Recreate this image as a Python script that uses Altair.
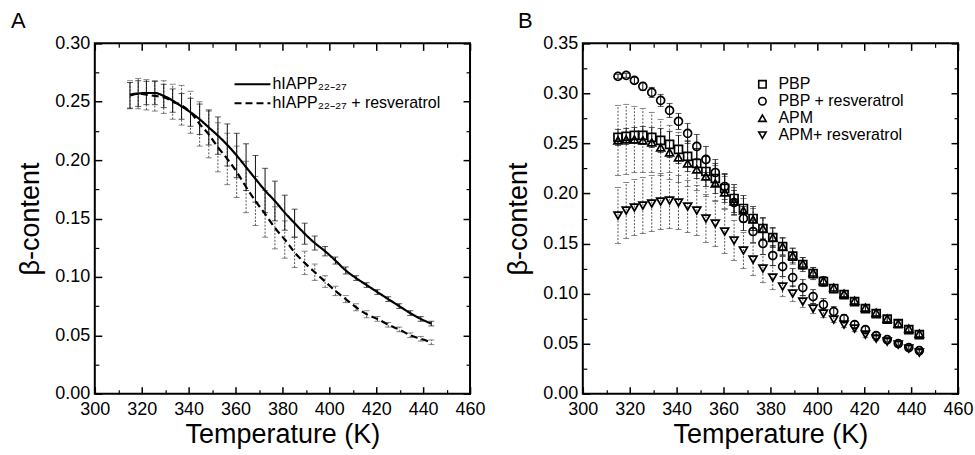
import altair as alt
import pandas as pd

FONT = "Liberation Sans"

# Temperatures (K) of the replicas
temps = [315.0, 318.5, 322.0, 325.6, 329.4, 333.2, 337.0, 340.8, 344.7, 348.6,
         352.5, 356.5, 360.5, 364.5, 368.5, 372.6, 376.8, 381.0, 385.2, 389.5,
         393.8, 398.2, 402.6, 407.0, 411.4, 415.9, 420.5, 425.1, 429.8, 434.5,
         439.0, 443.5]

x_major = [300, 320, 340, 360, 380, 400, 420, 440, 460]
x_minor = [310, 330, 350, 370, 390, 410, 430, 450]
a_y_major = [0.00, 0.05, 0.10, 0.15, 0.20, 0.25, 0.30]
a_y_minor = [0.025, 0.075, 0.125, 0.175, 0.225, 0.275]
b_y_major = [0.00, 0.05, 0.10, 0.15, 0.20, 0.25, 0.30, 0.35]
b_y_minor = [0.025, 0.075, 0.125, 0.175, 0.225, 0.275, 0.325]

# Panel A
a_names = ["hIAPP\u2082\u2082\u208b\u2082\u2087", "hIAPP\u2082\u2082\u208b\u2082\u2087 + resveratrol"]
a_hiapp = [0.2555, 0.257, 0.2575, 0.2575, 0.255, 0.251, 0.246, 0.241, 0.235, 0.228,
           0.221, 0.213, 0.204, 0.194, 0.184, 0.174, 0.165, 0.155, 0.146, 0.137,
           0.129, 0.122, 0.114, 0.1055, 0.099, 0.093, 0.087, 0.081, 0.075, 0.069,
           0.064, 0.060]
a_hiapp_err = [0.011, 0.011, 0.010, 0.010, 0.010, 0.010, 0.011, 0.012, 0.013, 0.015,
               0.016, 0.018, 0.019, 0.020, 0.020, 0.019, 0.017, 0.015, 0.012, 0.009,
               0.006, 0.004, 0.003, 0.003, 0.002, 0.002, 0.002, 0.002, 0.002, 0.002,
               0.002, 0.002]
a_res = [0.256, 0.257, 0.256, 0.255, 0.254, 0.250, 0.247, 0.241, 0.231, 0.222,
         0.211, 0.201, 0.190, 0.177, 0.165, 0.154, 0.142, 0.132, 0.121, 0.112,
         0.104, 0.096, 0.088, 0.081, 0.074, 0.068, 0.064, 0.059, 0.055, 0.050,
         0.047, 0.044]
a_res_err = [0.012, 0.013, 0.013, 0.013, 0.014, 0.015, 0.017, 0.018, 0.019, 0.020,
             0.021, 0.022, 0.022, 0.022, 0.021, 0.020, 0.018, 0.016, 0.013, 0.010,
             0.007, 0.005, 0.004, 0.003, 0.003, 0.003, 0.002, 0.002, 0.002, 0.002,
             0.002, 0.002]

# Panel B
b_names = ["PBP", "PBP + resveratrol", "APM", "APM+ resveratrol"]
b_shapes = ["square", "circle", "triangle-up", "triangle-down"]
b_pbp = [0.256, 0.257, 0.258, 0.258, 0.256, 0.253, 0.249, 0.244, 0.237, 0.230,
         0.222, 0.215, 0.205, 0.195, 0.185, 0.175, 0.165, 0.156, 0.147, 0.1375,
         0.129, 0.120, 0.112, 0.105, 0.099, 0.092, 0.085, 0.080, 0.0745, 0.070,
         0.064, 0.059]
b_pbp_err = [0.008, 0.008, 0.008, 0.009, 0.010, 0.012, 0.013, 0.014, 0.015, 0.015,
             0.015, 0.015, 0.014, 0.014, 0.013, 0.012, 0.011, 0.010, 0.009, 0.008,
             0.007, 0.006, 0.005, 0.004, 0.004, 0.003, 0.003, 0.003, 0.003, 0.003,
             0.003, 0.003]
b_pbp_res = [0.317, 0.318, 0.313, 0.307, 0.301, 0.293, 0.283, 0.272, 0.260, 0.247,
             0.234, 0.221, 0.207, 0.191, 0.175, 0.162, 0.150, 0.138, 0.127, 0.116,
             0.106, 0.097, 0.089, 0.082, 0.075, 0.069, 0.064, 0.058, 0.054, 0.050,
             0.046, 0.043]
b_pbp_res_err = [0.002, 0.002, 0.003, 0.004, 0.005, 0.006, 0.007, 0.008, 0.010, 0.012,
                 0.013, 0.013, 0.013, 0.012, 0.012, 0.011, 0.011, 0.010, 0.010, 0.009,
                 0.008, 0.007, 0.006, 0.005, 0.004, 0.003, 0.003, 0.003, 0.002, 0.002,
                 0.002, 0.002]
b_apm = [0.253, 0.254, 0.254, 0.253, 0.251, 0.246, 0.241, 0.236, 0.230, 0.224,
         0.217, 0.210, 0.201, 0.192, 0.183, 0.174, 0.165, 0.156, 0.147, 0.138,
         0.130, 0.121, 0.113, 0.106, 0.100, 0.093, 0.086, 0.081, 0.075, 0.070,
         0.065, 0.060]
b_apm_err = [0.035, 0.035, 0.033, 0.032, 0.030, 0.028, 0.027, 0.025, 0.023, 0.021,
             0.020, 0.018, 0.016, 0.014, 0.012, 0.011, 0.010, 0.009, 0.008, 0.007,
             0.006, 0.005, 0.004, 0.003, 0.003, 0.003, 0.003, 0.003, 0.003, 0.003,
             0.003, 0.003]
b_apm_res = [0.178, 0.183, 0.186, 0.188, 0.190, 0.192, 0.193, 0.191, 0.187, 0.183,
             0.175, 0.170, 0.162, 0.153, 0.143, 0.134, 0.125, 0.116, 0.107, 0.100,
             0.092, 0.085, 0.080, 0.074, 0.069, 0.065, 0.059, 0.055, 0.052, 0.049,
             0.045, 0.041]
b_apm_res_err = [0.028, 0.028, 0.028, 0.028, 0.028, 0.028, 0.028, 0.027, 0.026, 0.025,
                 0.024, 0.023, 0.022, 0.020, 0.018, 0.016, 0.014, 0.012, 0.010, 0.008,
                 0.006, 0.005, 0.004, 0.003, 0.003, 0.003, 0.003, 0.002, 0.002, 0.002,
                 0.002, 0.002]


def frame(name, vals, errs):
    return pd.DataFrame({
        "T": temps,
        "v": vals,
        "lo": [v - e for v, e in zip(vals, errs)],
        "hi": [v + e for v, e in zip(vals, errs)],
        "series": [name] * len(vals),
    })


XS = alt.Scale(domain=[300, 460], nice=False, zero=False)


def axis_layers(df, ysc, y_major, y_minor):
    base = alt.Chart(df).mark_point(opacity=0)

    def lay(xa, ya):
        return base.encode(x=alt.X("T:Q", scale=XS, axis=xa),
                           y=alt.Y("v:Q", scale=ysc, axis=ya))

    def ticks(orient, vals, size, width):
        return alt.Axis(orient=orient, values=vals, offset=-size, tickSize=size,
                        tickWidth=width, tickColor="black", labels=False,
                        domain=False, grid=False, title=None)

    lab_x = alt.Axis(orient="bottom", values=x_major, format="d", tickSize=0,
                     labelPadding=7, labelFontSize=18, labelFont=FONT,
                     labelColor="black", labelFlush=False, labelOverlap=False,
                     domain=False, grid=False, title="Temperature (K)",
                     titleFont=FONT, titleFontSize=27, titleFontWeight="normal",
                     titleColor="black", titlePadding=3)
    lab_y = alt.Axis(orient="left", values=y_major, format=".2f", tickSize=0,
                     labelPadding=5, labelFontSize=18, labelFont=FONT,
                     labelColor="black", labelOverlap=False, domain=False,
                     grid=False, title="\u03b2-content", titleFont=FONT,
                     titleFontSize=27, titleFontWeight="normal",
                     titleColor="black", titlePadding=10)
    return [
        lay(lab_x, lab_y),
        lay(ticks("bottom", x_major, 7, 1.5), ticks("left", y_major, 7, 1.5)),
        lay(ticks("bottom", x_minor, 4, 1.2), ticks("left", y_minor, 4, 1.2)),
        lay(ticks("top", x_major, 7, 1.5), ticks("right", y_major, 7, 1.5)),
        lay(ticks("top", x_minor, 4, 1.2), ticks("right", y_minor, 4, 1.2)),
    ]


def error_layers(df, ysc, color, dash, width):
    xe = alt.X("T:Q", scale=XS, axis=None)
    rule_kw = dict(color=color, strokeWidth=width)
    if dash:
        rule_kw["strokeDash"] = dash
    bars = alt.Chart(df).mark_rule(**rule_kw).encode(
        x=xe, y=alt.Y("lo:Q", scale=ysc, axis=None), y2="hi:Q")
    cap_lo = alt.Chart(df).mark_tick(orient="horizontal", size=6, thickness=1,
                                     color=color).encode(
        x=xe, y=alt.Y("lo:Q", scale=ysc, axis=None))
    cap_hi = alt.Chart(df).mark_tick(orient="horizontal", size=6, thickness=1,
                                     color=color).encode(
        x=xe, y=alt.Y("hi:Q", scale=ysc, axis=None))
    return [bars, cap_lo, cap_hi]


W, H = 376, 351

# ---------- Panel A ----------
YA = alt.Scale(domain=[0, 0.30], nice=False, zero=False)
dfa1 = frame(a_names[0], a_hiapp, a_hiapp_err)
dfa2 = frame(a_names[1], a_res, a_res_err)
dfa = pd.concat([dfa1, dfa2], ignore_index=True)

lines_a = alt.Chart(dfa).mark_line(color="black", strokeWidth=2.2,
                                   interpolate="monotone").encode(
    x=alt.X("T:Q", scale=XS, axis=None),
    y=alt.Y("v:Q", scale=YA, axis=None),
    strokeDash=alt.StrokeDash(
        "series:N",
        scale=alt.Scale(domain=a_names, range=[[1, 0], [7, 4]]),
        legend=alt.Legend(orient="none", legendX=150, legendY=33, title=None,
                          labelFont=FONT, labelFontSize=16, labelColor="black",
                          labelLimit=400,
                          symbolType="M-3,0H3", symbolSize=144,
                          symbolStrokeWidth=2, symbolStrokeColor="black",
                          labelOffset=12, rowPadding=3)),
    detail="series:N",
)

panel_a = alt.layer(
    *axis_layers(dfa, YA, a_y_major, a_y_minor),
    *error_layers(dfa2, YA, "#555555", [2, 1.5], 1),
    *error_layers(dfa1, YA, "#111111", None, 1),
    lines_a,
).resolve_axis(x="independent", y="independent").properties(
    width=W, height=H,
    title=alt.TitleParams("A", anchor="start", frame="group", dx=-84,
                          fontSize=22, font=FONT, fontWeight="normal",
                          color="black", offset=1),
)

# ---------- Panel B ----------
YB = alt.Scale(domain=[0, 0.35], nice=False, zero=False)
dfb_pbp = frame(b_names[0], b_pbp, b_pbp_err)
dfb_pbpr = frame(b_names[1], b_pbp_res, b_pbp_res_err)
dfb_apm = frame(b_names[2], b_apm, b_apm_err)
dfb_apmr = frame(b_names[3], b_apm_res, b_apm_res_err)
dfb = pd.concat([dfb_pbp, dfb_pbpr, dfb_apm, dfb_apmr], ignore_index=True)

points_b = alt.Chart(dfb).mark_point(filled=False, color="black", size=64,
                                     strokeWidth=1.7, opacity=1).encode(
    x=alt.X("T:Q", scale=XS, axis=None),
    y=alt.Y("v:Q", scale=YB, axis=None),
    shape=alt.Shape(
        "series:N",
        scale=alt.Scale(domain=b_names, range=b_shapes),
        legend=alt.Legend(orient="none", legendX=172, legendY=33, title=None,
                          labelFont=FONT, labelFontSize=16, labelColor="black",
                          labelLimit=400,
                          symbolSize=55, symbolStrokeWidth=1.6,
                          symbolStrokeColor="black", labelOffset=8,
                          rowPadding=1)),
)

panel_b = alt.layer(
    *axis_layers(dfb, YB, b_y_major, b_y_minor),
    *error_layers(dfb_apm, YB, "#555555", [2, 1.5], 1),
    *error_layers(dfb_apmr, YB, "#555555", [2, 1.5], 1),
    *error_layers(dfb_pbp, YB, "#111111", None, 1),
    *error_layers(dfb_pbpr, YB, "#111111", None, 1),
    points_b,
).resolve_axis(x="independent", y="independent").properties(
    width=W, height=H,
    title=alt.TitleParams("B", anchor="start", frame="group", dx=-65,
                          fontSize=22, font=FONT, fontWeight="normal",
                          color="black", offset=1),
)

chart = alt.hconcat(panel_a, panel_b, spacing=16).resolve_scale(
    shape="independent", strokeDash="independent"
).resolve_legend(
    shape="independent", strokeDash="independent"
).properties(
    padding={"left": 10, "top": 9, "right": 0, "bottom": 0},
    background="white",
).configure_view(stroke="black", strokeWidth=2)

chart.save("out.html", embed_options={"renderer": "svg", "actions": False})
